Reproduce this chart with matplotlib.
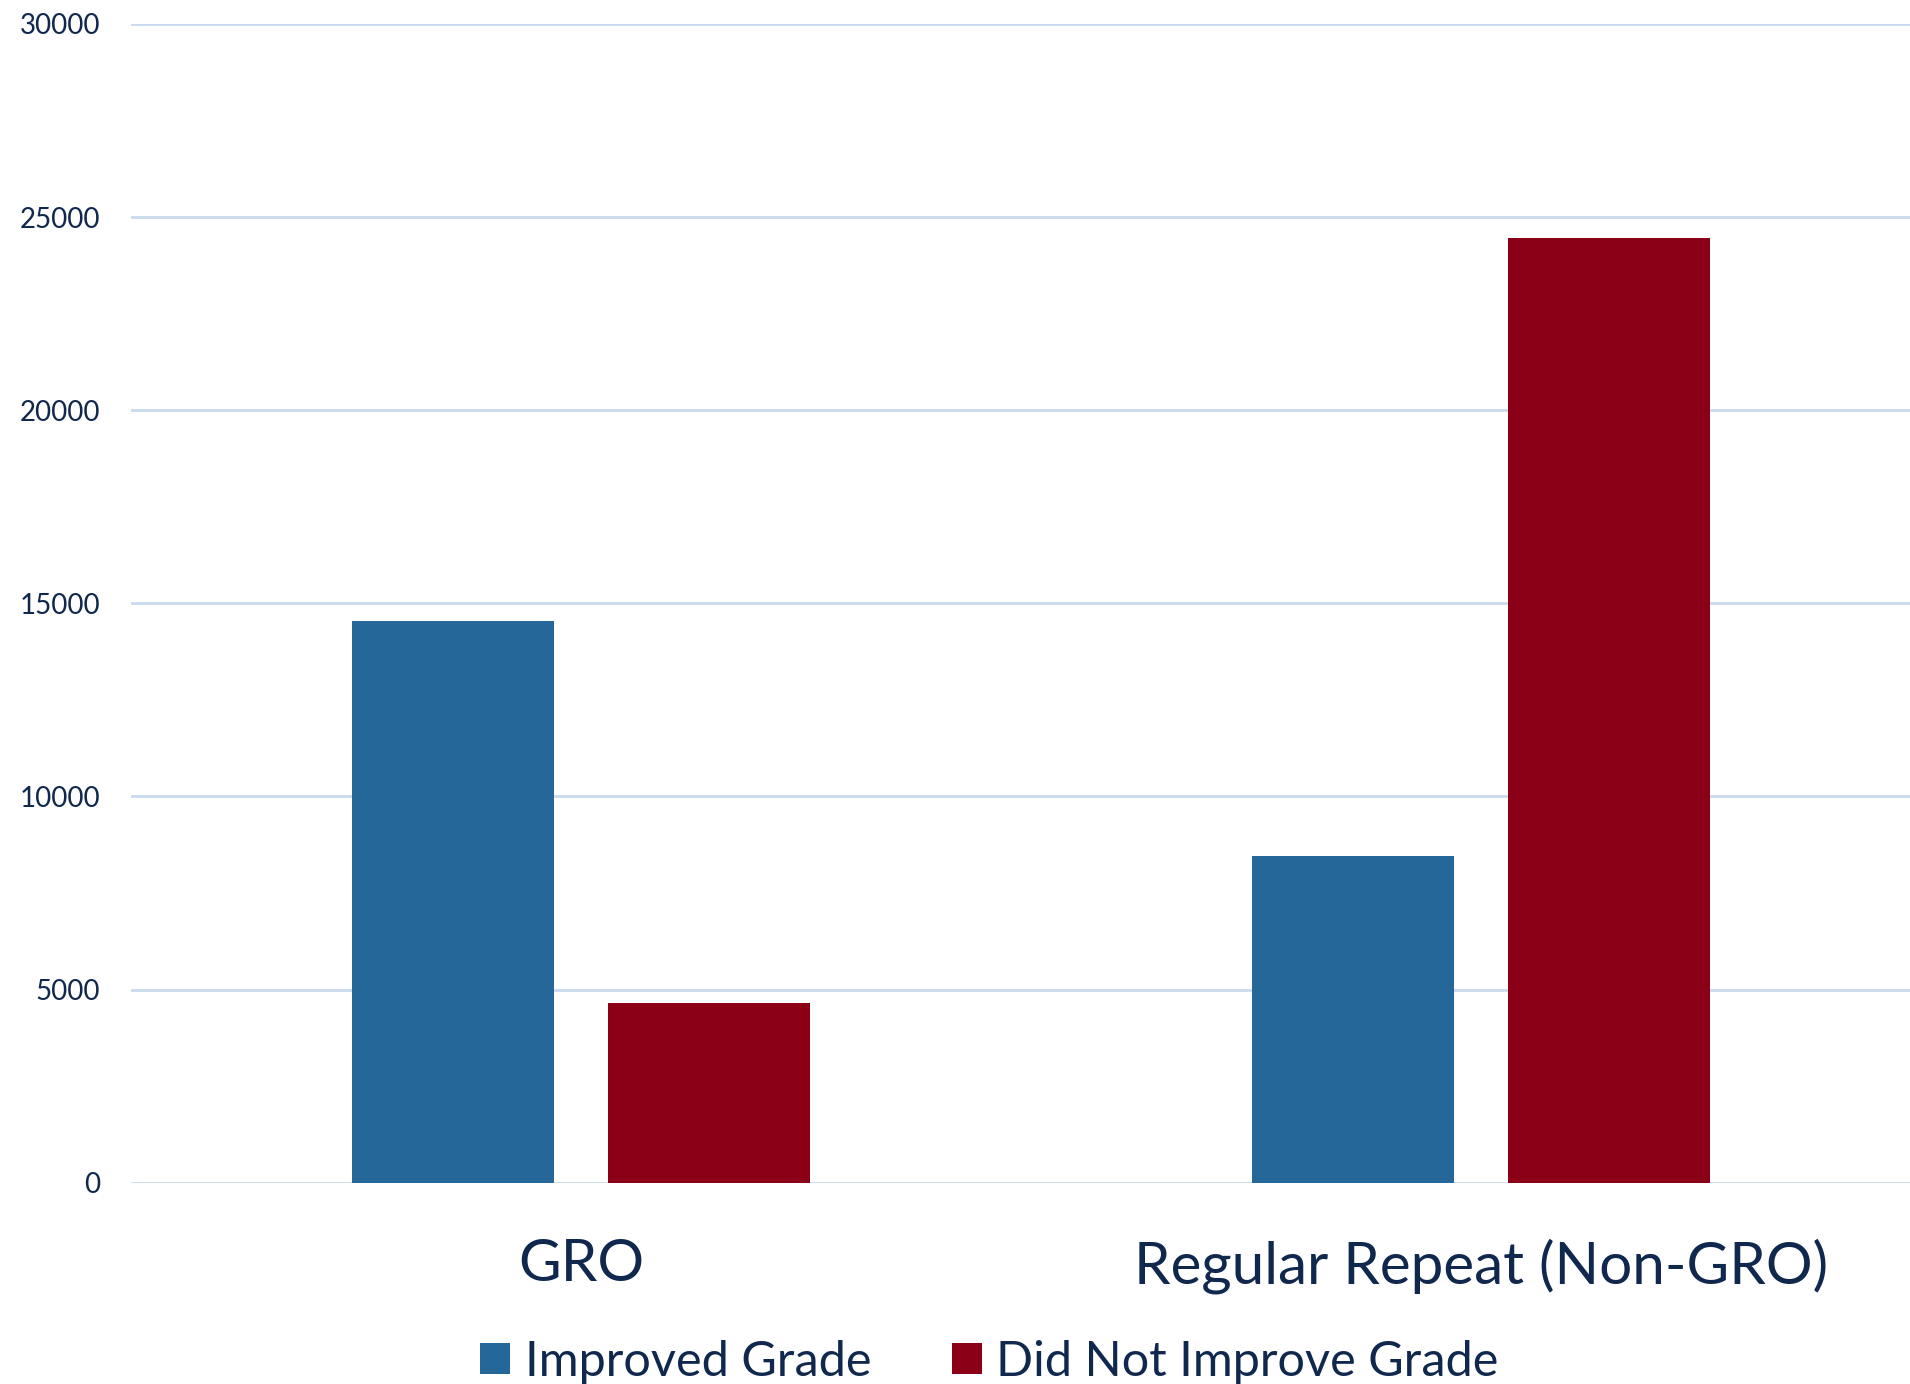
import matplotlib
matplotlib.use("Agg")
import matplotlib.pyplot as plt
import numpy as np
from matplotlib.patches import Patch

# values
categories = ["GRO", "Regular Repeat (Non-GRO)"]
improved = [14540, 8470]
not_improved = [4655, 24450]
series_names = ["Improved Grade", "Did Not Improve Grade"]
y_ticks = [0, 5000, 10000, 15000, 20000, 25000, 30000]

BLUE = "#256799"
RED = "#8B0016"
TEXT = "#10284E"
GRID = "#C9DAF0"

plt.rcParams['font.family'] = ['Lato', 'DejaVu Sans']

fig = plt.figure(figsize=(19.1, 13.84), dpi=100)
ax = fig.add_axes([131 / 1910, 201.3 / 1384, 1800 / 1910, 1158.7 / 1384])

x = np.arange(len(categories))
width = 0.2244
offset = 0.1422
ax.bar(x - offset, improved, width, color=BLUE, zorder=3)
ax.bar(x + offset, not_improved, width, color=RED, zorder=3)

ax.set_xlim(-0.5, 1.5)
ax.set_ylim(0, 30000)
ax.set_yticks(y_ticks)
ax.set_yticklabels([str(t) for t in y_ticks], fontsize=20, color=TEXT)
ax.yaxis.grid(True, color=GRID, linewidth=2, zorder=0)
ax.set_axisbelow(True)
ax.tick_params(axis='y', length=0, pad=22)
ax.set_xticks(x)
ax.set_xticklabels(categories, fontsize=42, color=TEXT)
ax.tick_params(axis='x', length=0, pad=40)
for s in ax.spines.values():
    s.set_visible(False)

handles = [Patch(facecolor=BLUE), Patch(facecolor=RED)]
fig.legend(handles, series_names, loc='center', bbox_to_anchor=(0.518, 0.016),
           ncol=2, frameon=False, fontsize=35, labelcolor=TEXT,
           handlelength=0.62, handleheight=0.62, handletextpad=0.3, columnspacing=1.65)

fig.savefig("out.png", dpi=100)
